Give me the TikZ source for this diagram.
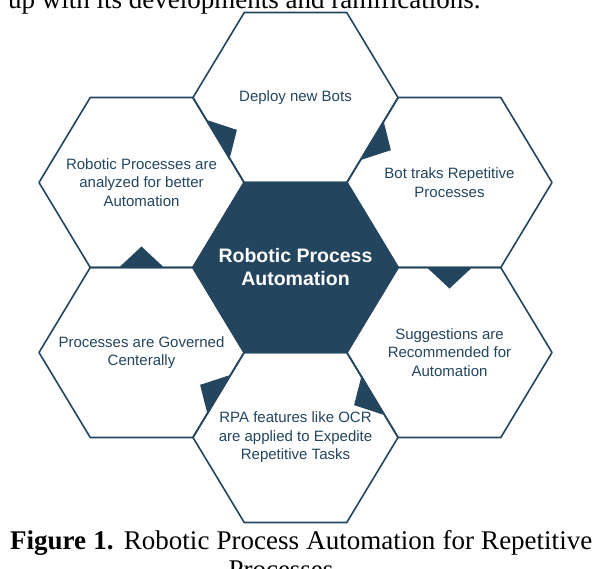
\documentclass[tikz,border=0pt]{standalone}
\usepackage{fontspec}
\setmainfont{Liberation Serif}
\setsansfont{Liberation Sans}
\usetikzlibrary{calc}
\definecolor{rpablue}{HTML}{23455E}

\begin{document}
\begin{tikzpicture}[
    x=1pt, y=1pt,
    hexline/.style={draw=rpablue, line width=1.6pt, line join=round},
    hextext/.style={align=center, text=rpablue, font=\sffamily\fontsize{15}{18.5}\selectfont},
    hubtext/.style={align=center, text=white, font=\sffamily\bfseries\fontsize{19.5}{23}\selectfont},
    pointer/.style={fill=rpablue},
    body/.style={font=\fontsize{27}{29}\selectfont, inner sep=0pt}
]
\useasboundingbox (0,0) rectangle (594,-568);
\clip (0,0) rectangle (594,-568);

% Hexagon centres
\coordinate (hub) at (295.5,-267.5);
\coordinate (deploy) at (295.5,-97.5);
\coordinate (track) at (449.5,-182.5);
\coordinate (suggest) at (449.5,-352.5);
\coordinate (ocr) at (295.5,-437.5);
\coordinate (govern) at (141.5,-352.5);
\coordinate (analyze) at (141.5,-182.5);

% Outer ring
\foreach \c in {deploy,track,suggest,ocr,govern,analyze}
  \draw[hexline] (\c) +(-102.5,0) -- +(-51.25,85) -- +(51.25,85) -- +(102.5,0) -- +(51.25,-85) -- +(-51.25,-85) -- cycle;

% Centre
\filldraw[hexline, fill=rpablue] (hub) +(-102.5,0) -- +(-51.25,85) -- +(51.25,85) -- +(102.5,0) -- +(51.25,-85) -- +(-51.25,-85) -- cycle;

% Texts
\node[hubtext] (hubtxt) at (hub) {Robotic Process\\Automation};
\node[hextext] (deploytxt) at (deploy) {Deploy new Bots};
\node[hextext] (tracktxt) at (track) {Bot traks Repetitive\\Processes};
\node[hextext] (suggesttxt) at (suggest) {Suggestions are\\Recommended for\\Automation};
\node[hextext] (ocrtxt) at (ocr) {RPA features like OCR\\are applied to Expedite\\Repetitive Tasks};
\node[hextext] (governtxt) at (govern) {Processes are Governed\\Centerally};
\node[hextext] (analyzetxt) at (analyze) {Robotic Processes are\\analyzed for better\\Automation};

% Pointers on shared edges
\foreach \a/\b in {analyze/deploy, deploy/track, track/suggest, suggest/ocr, ocr/govern, govern/analyze} {
  \coordinate (mid) at ($(\a)!0.5!(\b)$);
  \fill[pointer] ($(mid)!22.5pt!90:(\b)$) -- ($(mid)!21pt!(\b)$) -- ($(mid)!22.5pt!-90:(\b)$) -- cycle;
}

% Surrounding text
\node[body, anchor=base west] (intro) at (8,-8.5) {up with its developments and ramifications.};
\node[body, anchor=base west] (caption) at (10,-549) {\makebox[582pt][s]{\textbf{Figure 1.} Robotic Process Automation for Repetitive}};
\node[body, anchor=base] (captionend) at (281,-578) {Processes};

\end{tikzpicture}
\end{document}
